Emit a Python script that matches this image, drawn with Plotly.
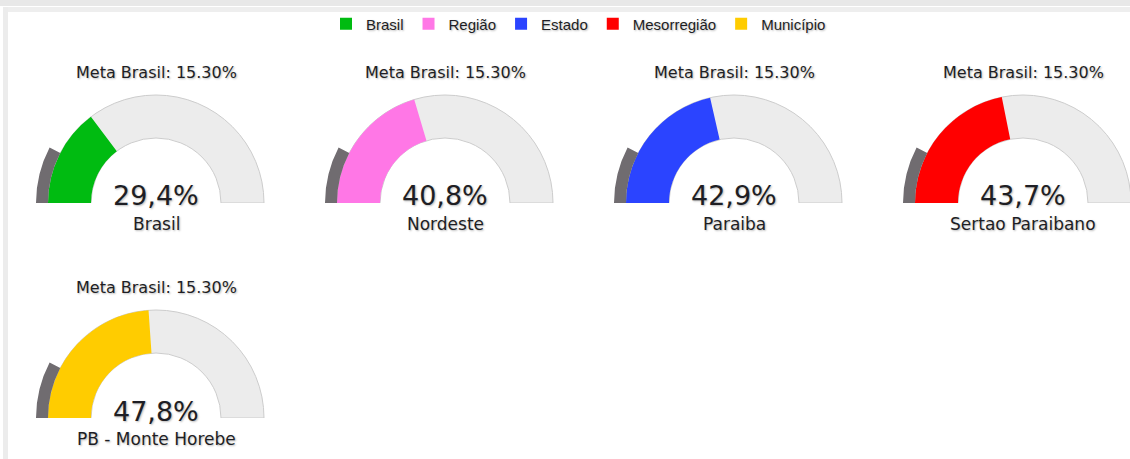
import plotly.graph_objects as go

# ---- data ----
gauge_labels = ["Brasil", "Nordeste", "Paraiba", "Sertao Paraibano", "PB - Monte Horebe"]
gauge_values = [29.4, 40.8, 42.9, 43.7, 47.8]
value_labels = ["29,4%", "40,8%", "42,9%", "43,7%", "47,8%"]
legend_names = ["Brasil", "Região", "Estado", "Mesorregião", "Município"]
meta_brasil = 15.30
meta_label = "Meta Brasil: 15.30%"
gauge_min = 0
gauge_max = 100

# ---- styles ----
colors = ["#00bb11", "#ff77e6", "#2b44ff", "#ff0000", "#ffcc00"]
meta_color = "#706c70"
track_color = "#ececec"
track_line = "#cccccc"
text_color = "#1e1e24"
shadow = "1px 1px 2px rgba(0,0,0,0.28)"

# ---- layout geometry (pixels) ----
W, H = 1144, 459
col_x = [156, 445, 734, 1023]
row_base = [203, 418]
R_IN, R_OUT, R_META, R_AX = 65, 108, 120, 121


def deg(v):
    return (v - gauge_min) / (gauge_max - gauge_min) * 180.0


fig = go.Figure()
annotations = []
layout_polars = {}

for i, (lab, val, vtxt) in enumerate(zip(gauge_labels, gauge_values, value_labels)):
    cx = col_x[i % 4]
    by = row_base[i // 4]
    pname = "polar" if i == 0 else f"polar{i + 1}"
    layout_polars[pname] = dict(
        domain=dict(x=[(cx - R_AX) / W, (cx + R_AX) / W],
                    y=[1 - by / H, 1 - (by - R_AX) / H]),
        sector=[0, 180],
        hole=0,
        bgcolor="rgba(0,0,0,0)",
        radialaxis=dict(range=[0, R_AX], visible=False),
        angularaxis=dict(rotation=180, direction="clockwise", visible=False),
    )
    # track
    fig.add_trace(go.Barpolar(
        r=[R_OUT - R_IN], base=[R_IN], theta=[deg(gauge_max) / 2], width=[deg(gauge_max)],
        marker=dict(color=track_color, line=dict(color=track_line, width=1)),
        subplot=pname, showlegend=False, hoverinfo="skip"))
    # value
    fig.add_trace(go.Barpolar(
        r=[R_OUT - R_IN], base=[R_IN], theta=[deg(val) / 2], width=[deg(val)],
        marker=dict(color=colors[i], line=dict(width=0)),
        subplot=pname, name=legend_names[i], showlegend=True))
    # meta band
    fig.add_trace(go.Barpolar(
        r=[R_META - R_OUT], base=[R_OUT], theta=[deg(meta_brasil) / 2], width=[deg(meta_brasil)],
        marker=dict(color=meta_color, line=dict(width=0)),
        subplot=pname, showlegend=False, name="Meta"))

    annotations += [
        dict(text=meta_label, x=cx / W, y=1 - (by - 131) / H, xref="paper", yref="paper",
             xanchor="center", yanchor="middle", showarrow=False,
             font=dict(family="DejaVu Sans", size=16, color=text_color, shadow=shadow)),
        dict(text=vtxt, x=cx / W, y=1 - (by - 7) / H, xref="paper", yref="paper",
             xanchor="center", yanchor="middle", showarrow=False,
             font=dict(family="DejaVu Sans", size=27, color=text_color, shadow=shadow)),
        dict(text=lab, x=cx / W, y=1 - (by + 21) / H, xref="paper", yref="paper",
             xanchor="center", yanchor="middle", showarrow=False,
             font=dict(family="DejaVu Sans", size=17, color=text_color, shadow=shadow)),
    ]

shapes = [
    dict(type="rect", xref="paper", yref="paper", x0=0, x1=1, y0=1 - 6 / H, y1=1,
         fillcolor="#e8e8e8", line=dict(width=0), layer="below"),
    dict(type="rect", xref="paper", yref="paper", x0=3 / W, x1=1, y0=1 - 12 / H, y1=1 - 7 / H,
         fillcolor="#eeeeee", line=dict(width=0), layer="below"),
    dict(type="rect", xref="paper", yref="paper", x0=3 / W, x1=8 / W, y0=0, y1=1 - 7 / H,
         fillcolor="#ececec", line=dict(width=0), layer="below"),
]

fig.update_layout(
    width=W, height=H,
    margin=dict(l=0, r=0, t=0, b=0),
    paper_bgcolor="white", plot_bgcolor="white",
    annotations=annotations, shapes=shapes,
    showlegend=True,
    legend=dict(orientation="h", x=326 / W, xanchor="left", y=1 - 24 / H, yanchor="middle",
                font=dict(family="Liberation Sans", size=15, color=text_color, shadow=shadow),
                bgcolor="rgba(0,0,0,0)", traceorder="normal"),
    **layout_polars,
)

fig.write_html("out.html",
               config={"displayModeBar": False},
               post_script="document.body.style.margin='0';document.body.style.overflow='hidden';")
